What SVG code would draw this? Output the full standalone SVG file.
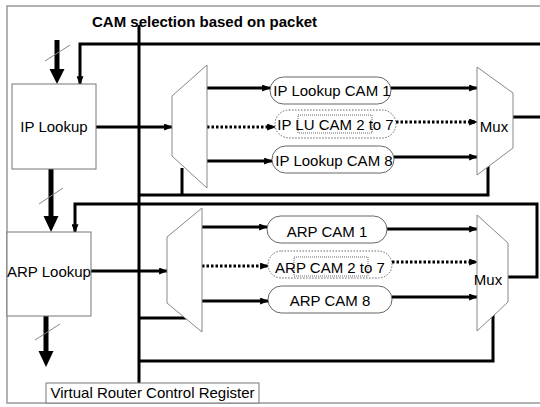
<svg xmlns="http://www.w3.org/2000/svg" width="540" height="407" viewBox="0 0 540 407">
<defs>
<style>
text{font-family:"Liberation Sans",Arial,sans-serif;font-size:15px;fill:#000}
.title{font-weight:bold}
.box{fill:#fff;stroke:#777;stroke-width:1}
.cam{fill:#fff;stroke:#666;stroke-width:1}
.camd{fill:#fff;stroke:#666;stroke-width:1;stroke-dasharray:1.5 1.5}
.inner{fill:none;stroke:#444;stroke-width:0.8;stroke-dasharray:1 1}
.mx{fill:#fff;stroke:#888;stroke-width:1}
.w{fill:none;stroke:#000;stroke-width:3}
.wa{fill:none;stroke:#000;stroke-width:3;marker-end:url(#ah)}
.da{fill:none;stroke:#000;stroke-width:3;stroke-dasharray:2.5 2;marker-end:url(#ah)}
.bus{fill:none;stroke:#000;stroke-width:5}
.sl{stroke:#888;stroke-width:1}
.frame{fill:none;stroke:#999;stroke-width:1.5}
</style>
<marker id="ah" viewBox="0 0 10 8" refX="9" refY="4" markerWidth="9" markerHeight="7" orient="auto" markerUnits="userSpaceOnUse"><path d="M0,0 L10,4 L0,8 z" fill="#000"/></marker>
</defs>
<rect width="540" height="407" fill="#fff"/>
<path class="frame" d="M545,6 H7 V403 H545"/>
<text class="title" x="92" y="27">CAM selection based on packet</text>

<g id="connectors">
<!-- main control bus -->
<line class="w" x1="139" y1="25" x2="139" y2="383"/>
<!-- top feedback into IP Lookup -->
<path class="wa" d="M542,44 H80 V84"/>
<!-- IP Lookup to demux -->
<path class="wa" d="M96,127 H172"/>
<!-- demux outputs -->
<path class="wa" d="M207,88 H270"/>
<path class="da" d="M207,127 H275"/>
<path class="wa" d="M207,161 H272"/>
<!-- CAM to mux -->
<path class="wa" d="M391,88 H477"/>
<path class="da" d="M396,122 H477"/>
<path class="wa" d="M394,157 H477"/>
<!-- upper mux output -->
<path class="w" d="M513,117 H542"/>
<!-- upper controls -->
<path class="w" d="M182,168 V195"/>
<path class="w" d="M139,195 H488 V166"/>
<!-- lower feedback into ARP Lookup -->
<path class="wa" d="M508,277 H537 V204 H75 V232"/>
<!-- ARP Lookup to demux -->
<path class="wa" d="M91,271 H167"/>
<!-- lower demux outputs -->
<path class="wa" d="M202,227 H267"/>
<path class="da" d="M202,266 H268"/>
<path class="wa" d="M202,301 H268"/>
<!-- ARP CAM to mux -->
<path class="wa" d="M387,229 H477"/>
<path class="da" d="M392,262 H477"/>
<path class="wa" d="M392,297 H477"/>
<!-- lower controls -->
<path class="w" d="M139,318 H186 V316"/>
<path class="w" d="M139,361 H493 V314"/>
<!-- thick bus arrows -->
<line class="bus" x1="57" y1="40" x2="57" y2="70"/>
<polygon points="49.5,69 64.5,69 57,84" fill="#000"/>
<line class="sl" x1="45" y1="61" x2="70" y2="45"/>
<line class="bus" x1="51" y1="169" x2="51" y2="217"/>
<polygon points="43.5,216 58.5,216 51,232" fill="#000"/>
<line class="sl" x1="39" y1="204" x2="63" y2="188"/>
<line class="bus" x1="46" y1="316" x2="46" y2="352"/>
<polygon points="38.5,351 53.5,351 46,367" fill="#000"/>
<line class="sl" x1="35" y1="340" x2="60" y2="324"/>
</g>

<g id="ip-lookup">
<rect class="box" x="12" y="84" width="84" height="85"/>
<text x="54" y="132" text-anchor="middle">IP Lookup</text>
</g>
<g id="arp-lookup">
<rect class="box" x="7" y="232" width="84" height="84"/>
<text x="49" y="277" text-anchor="middle">ARP Lookup</text>
</g>

<g id="ip-demux"><polygon class="mx" points="172,96 207,65 207,188 172,156"/></g>
<g id="arp-demux"><polygon class="mx" points="167,237 202,208 202,332 167,303"/></g>

<g id="ip-cam1">
<rect class="cam" x="270" y="77" width="121" height="27" rx="13.5"/>
<text x="332" y="96" text-anchor="middle">IP Lookup CAM 1</text>
</g>
<g id="ip-cam2-7">
<rect class="camd" x="275" y="110" width="121" height="28" rx="14"/>
<rect class="inner" x="298" y="115" width="74" height="18"/>
<text x="335.5" y="130" text-anchor="middle">IP LU CAM 2 to 7</text>
</g>
<g id="ip-cam8">
<rect class="cam" x="272" y="146" width="122" height="27" rx="13.5"/>
<text x="334" y="166" text-anchor="middle">IP Lookup CAM 8</text>
</g>

<g id="arp-cam1">
<rect class="cam" x="267" y="216" width="120" height="27" rx="13.5"/>
<text x="327" y="237" text-anchor="middle">ARP CAM 1</text>
</g>
<g id="arp-cam2-7">
<rect class="camd" x="268" y="251" width="124" height="27" rx="13.5"/>
<rect class="inner" x="294" y="257" width="74" height="19"/>
<text x="330" y="273" text-anchor="middle">ARP CAM 2 to 7</text>
</g>
<g id="arp-cam8">
<rect class="cam" x="268" y="286" width="124" height="27" rx="13.5"/>
<text x="330" y="306" text-anchor="middle">ARP CAM 8</text>
</g>

<g id="ip-mux">
<polygon class="mx" points="477,67 513,93 513,148 477,175"/>
<text x="494" y="132" text-anchor="middle">Mux</text>
</g>
<g id="arp-mux">
<polygon class="mx" points="477,215 508,243 508,302 477,331"/>
<text x="488" y="285" text-anchor="middle">Mux</text>
</g>

<g id="vrcr">
<rect class="box" x="46" y="383" width="213" height="20"/>
<text x="152.5" y="398" text-anchor="middle">Virtual Router Control Register</text>
</g>
</svg>
